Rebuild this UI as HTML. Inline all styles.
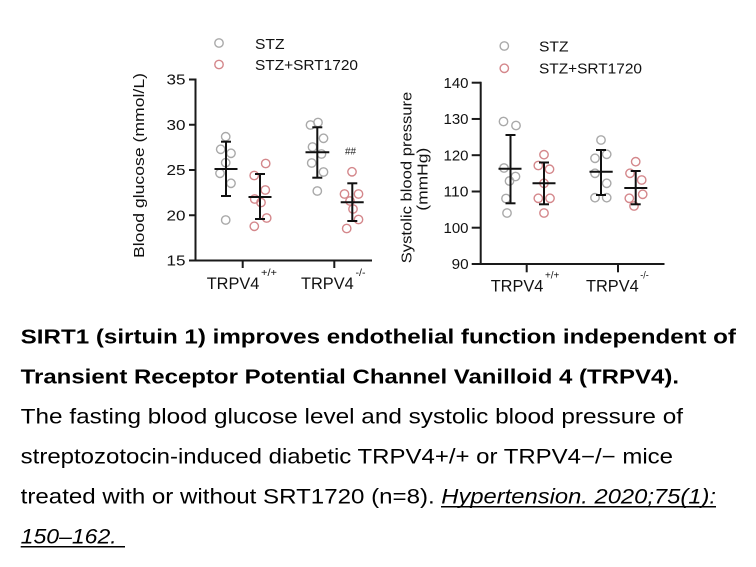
<!DOCTYPE html>
<html>
<head>
<meta charset="utf-8">
<style>
  html, body { margin:0; padding:0; background:#fff; }
  body { width:756px; height:567px; overflow:hidden; }
  svg { display:block; }
  text { font-family: "Liberation Sans", Arial, sans-serif; }
</style>
</head>
<body>
<svg width="756" height="567" viewBox="0 0 756 567" xmlns="http://www.w3.org/2000/svg">
  <rect width="756" height="567" fill="#fff"/>

  <!-- ================= LEFT CHART ================= -->
  <!-- legend -->
  <circle cx="219" cy="43" r="4.2" fill="none" stroke="#a9a9a9" stroke-width="1.4"/>
  <circle cx="219" cy="64.5" r="4.2" fill="none" stroke="#d4878b" stroke-width="1.4"/>
  <text x="255" y="48.8" font-size="15" fill="#111" textLength="29.5" lengthAdjust="spacingAndGlyphs">STZ</text>
  <text x="255" y="69.8" font-size="15" fill="#111" textLength="103" lengthAdjust="spacingAndGlyphs">STZ+SRT1720</text>

  <!-- axes -->
  <g stroke="#1a1a1a" stroke-width="2" fill="none">
    <line x1="195.5" y1="78.5" x2="195.5" y2="261.5"/>
    <line x1="194.5" y1="260.5" x2="372" y2="260.5"/>
    <line x1="189" y1="79.5" x2="195.5" y2="79.5"/>
    <line x1="189" y1="124.75" x2="195.5" y2="124.75"/>
    <line x1="189" y1="170" x2="195.5" y2="170"/>
    <line x1="189" y1="215.25" x2="195.5" y2="215.25"/>
    <line x1="189" y1="260.5" x2="195.5" y2="260.5"/>
    <line x1="242.7" y1="260.5" x2="242.7" y2="268"/>
    <line x1="334.3" y1="260.5" x2="334.3" y2="268"/>
  </g>
  <g font-size="14.5" fill="#111">
    <text x="166.5" y="84.7" textLength="19" lengthAdjust="spacingAndGlyphs">35</text>
    <text x="166.5" y="129.9" textLength="19" lengthAdjust="spacingAndGlyphs">30</text>
    <text x="166.5" y="175.2" textLength="19" lengthAdjust="spacingAndGlyphs">25</text>
    <text x="166.5" y="220.4" textLength="19" lengthAdjust="spacingAndGlyphs">20</text>
    <text x="166.5" y="265.7" textLength="19" lengthAdjust="spacingAndGlyphs">15</text>
  </g>
  <text transform="translate(144,165.5) rotate(-90)" x="-92.5" y="0" font-size="15" fill="#111" textLength="185" lengthAdjust="spacingAndGlyphs">Blood glucose (mmol/L)</text>

  <!-- x labels -->
  <text x="206.7" y="289" font-size="16.5" fill="#111" textLength="52.7" lengthAdjust="spacingAndGlyphs">TRPV4</text>
  <text x="261" y="276" font-size="10" fill="#111" textLength="16" lengthAdjust="spacingAndGlyphs">+/+</text>
  <text x="301" y="289" font-size="16.5" fill="#111" textLength="52.7" lengthAdjust="spacingAndGlyphs">TRPV4</text>
  <text x="355.5" y="276" font-size="10" fill="#111" textLength="10" lengthAdjust="spacingAndGlyphs">-/-</text>

  <!-- data points -->
  <g fill="none" stroke="#a9a9a9" stroke-width="1.4">
    <circle cx="225.7" cy="136.7" r="4.2"/>
    <circle cx="220.7" cy="149.3" r="4.2"/>
    <circle cx="231" cy="153.3" r="4.2"/>
    <circle cx="225.7" cy="162.7" r="4.2"/>
    <circle cx="220" cy="173.3" r="4.2"/>
    <circle cx="231" cy="183.3" r="4.2"/>
    <circle cx="225.7" cy="220" r="4.2"/>

    <circle cx="310.5" cy="125" r="4.2"/>
    <circle cx="318" cy="122.5" r="4.2"/>
    <circle cx="323.5" cy="138.3" r="4.2"/>
    <circle cx="312.5" cy="147" r="4.2"/>
    <circle cx="321.5" cy="154" r="4.2"/>
    <circle cx="311.7" cy="163" r="4.2"/>
    <circle cx="323.5" cy="172" r="4.2"/>
    <circle cx="317.3" cy="191" r="4.2"/>
  </g>
  <g fill="none" stroke="#d4878b" stroke-width="1.4">
    <circle cx="265.7" cy="163.5" r="4.2"/>
    <circle cx="254.2" cy="175.5" r="4.2"/>
    <circle cx="265.3" cy="190" r="4.2"/>
    <circle cx="254.7" cy="199" r="4.2"/>
    <circle cx="261" cy="202.5" r="4.2"/>
    <circle cx="266.7" cy="218" r="4.2"/>
    <circle cx="254.3" cy="226.3" r="4.2"/>

    <circle cx="352" cy="171.8" r="4.2"/>
    <circle cx="344.5" cy="194" r="4.2"/>
    <circle cx="358.5" cy="194" r="4.2"/>
    <circle cx="350" cy="201" r="4.2"/>
    <circle cx="353" cy="209" r="4.2"/>
    <circle cx="358.5" cy="219.5" r="4.2"/>
    <circle cx="346.7" cy="228.5" r="4.2"/>
  </g>

  <!-- mean ± SD -->
  <g stroke="#111" stroke-width="2" fill="none">
    <!-- g1 -->
    <line x1="226" y1="141.7" x2="226" y2="196"/>
    <line x1="221" y1="141.7" x2="231" y2="141.7"/>
    <line x1="221" y1="196" x2="231" y2="196"/>
    <line x1="214.5" y1="169" x2="237.5" y2="169"/>
    <!-- g2 -->
    <line x1="260" y1="174" x2="260" y2="219"/>
    <line x1="255" y1="174" x2="265" y2="174"/>
    <line x1="255" y1="219" x2="265" y2="219"/>
    <line x1="248.5" y1="197" x2="271.5" y2="197"/>
    <!-- g3 -->
    <line x1="317.3" y1="127.3" x2="317.3" y2="177.7"/>
    <line x1="312.3" y1="127.3" x2="322.3" y2="127.3"/>
    <line x1="312.3" y1="177.7" x2="322.3" y2="177.7"/>
    <line x1="305.5" y1="152.3" x2="329.3" y2="152.3"/>
    <!-- g4 -->
    <line x1="352.3" y1="183.3" x2="352.3" y2="221"/>
    <line x1="347.3" y1="183.3" x2="357.3" y2="183.3"/>
    <line x1="347.3" y1="221" x2="357.3" y2="221"/>
    <line x1="340.7" y1="202.3" x2="363.7" y2="202.3"/>
  </g>
  <text x="345" y="154.5" font-size="10.5" fill="#222" textLength="11" lengthAdjust="spacingAndGlyphs">##</text>

  <!-- ================= RIGHT CHART ================= -->
  <circle cx="504.3" cy="46" r="4.2" fill="none" stroke="#a9a9a9" stroke-width="1.4"/>
  <circle cx="504.3" cy="68.3" r="4.2" fill="none" stroke="#d4878b" stroke-width="1.4"/>
  <text x="539" y="51.7" font-size="14.5" fill="#111" textLength="29.5" lengthAdjust="spacingAndGlyphs">STZ</text>
  <text x="539" y="73.3" font-size="14.5" fill="#111" textLength="103" lengthAdjust="spacingAndGlyphs">STZ+SRT1720</text>

  <g stroke="#1a1a1a" stroke-width="2" fill="none">
    <line x1="480.7" y1="81.7" x2="480.7" y2="265"/>
    <line x1="479.7" y1="264" x2="664.5" y2="264"/>
    <line x1="471.7" y1="82.7" x2="480.7" y2="82.7"/>
    <line x1="471.7" y1="118.96" x2="480.7" y2="118.96"/>
    <line x1="471.7" y1="155.2" x2="480.7" y2="155.2"/>
    <line x1="471.7" y1="191.5" x2="480.7" y2="191.5"/>
    <line x1="471.7" y1="227.7" x2="480.7" y2="227.7"/>
    <line x1="471.7" y1="264" x2="480.7" y2="264"/>
    <line x1="526.7" y1="264" x2="526.7" y2="272.3"/>
    <line x1="618" y1="264" x2="618" y2="272.3"/>
  </g>
  <g font-size="14.5" fill="#111">
    <text x="443.5" y="87.9" textLength="25" lengthAdjust="spacingAndGlyphs">140</text>
    <text x="443.5" y="124.1" textLength="25" lengthAdjust="spacingAndGlyphs">130</text>
    <text x="443.5" y="160.4" textLength="25" lengthAdjust="spacingAndGlyphs">120</text>
    <text x="443.5" y="196.7" textLength="25" lengthAdjust="spacingAndGlyphs">110</text>
    <text x="443.5" y="232.9" textLength="25" lengthAdjust="spacingAndGlyphs">100</text>
    <text x="451.7" y="269.2" textLength="17" lengthAdjust="spacingAndGlyphs">90</text>
  </g>
  <text transform="translate(411.7,177.5) rotate(-90)" x="-85.8" y="0" font-size="14.5" fill="#111" textLength="171.6" lengthAdjust="spacingAndGlyphs">Systolic blood pressure</text>
  <text transform="translate(427.5,179.2) rotate(-90)" x="-31.5" y="0" font-size="14.5" fill="#111" textLength="63" lengthAdjust="spacingAndGlyphs">(mmHg)</text>

  <text x="490.7" y="291.7" font-size="16.5" fill="#111" textLength="52.7" lengthAdjust="spacingAndGlyphs">TRPV4</text>
  <text x="545" y="278.5" font-size="10" fill="#111" textLength="14.3" lengthAdjust="spacingAndGlyphs">+/+</text>
  <text x="586" y="291.7" font-size="16.5" fill="#111" textLength="52.7" lengthAdjust="spacingAndGlyphs">TRPV4</text>
  <text x="640.3" y="278.5" font-size="10" fill="#111" textLength="8.5" lengthAdjust="spacingAndGlyphs">-/-</text>

  <g fill="none" stroke="#a9a9a9" stroke-width="1.4">
    <circle cx="503.5" cy="121.5" r="4.2"/>
    <circle cx="516" cy="125.5" r="4.2"/>
    <circle cx="504" cy="168" r="4.2"/>
    <circle cx="515.5" cy="176.5" r="4.2"/>
    <circle cx="509.5" cy="181" r="4.2"/>
    <circle cx="506" cy="198.5" r="4.2"/>
    <circle cx="507" cy="213" r="4.2"/>

    <circle cx="601" cy="140" r="4.2"/>
    <circle cx="595" cy="158.3" r="4.2"/>
    <circle cx="606.7" cy="154.3" r="4.2"/>
    <circle cx="595" cy="173.3" r="4.2"/>
    <circle cx="606.7" cy="183.3" r="4.2"/>
    <circle cx="595" cy="197.7" r="4.2"/>
    <circle cx="606.7" cy="197.7" r="4.2"/>
  </g>
  <g fill="none" stroke="#d4878b" stroke-width="1.4">
    <circle cx="544" cy="154.7" r="4.2"/>
    <circle cx="538.3" cy="165.5" r="4.2"/>
    <circle cx="549.5" cy="169.2" r="4.2"/>
    <circle cx="544" cy="183.3" r="4.2"/>
    <circle cx="538.3" cy="198.3" r="4.2"/>
    <circle cx="550" cy="198.3" r="4.2"/>
    <circle cx="544" cy="213" r="4.2"/>

    <circle cx="635.7" cy="161.7" r="4.2"/>
    <circle cx="630" cy="173.3" r="4.2"/>
    <circle cx="641.7" cy="180" r="4.2"/>
    <circle cx="642.7" cy="194.3" r="4.2"/>
    <circle cx="629.3" cy="198.3" r="4.2"/>
    <circle cx="634" cy="206" r="4.2"/>
  </g>

  <g stroke="#111" stroke-width="2" fill="none">
    <line x1="510.5" y1="135" x2="510.5" y2="203.3"/>
    <line x1="505.5" y1="135" x2="515.5" y2="135"/>
    <line x1="505.5" y1="203.3" x2="515.5" y2="203.3"/>
    <line x1="498.5" y1="168.7" x2="521.5" y2="168.7"/>

    <line x1="544" y1="162.5" x2="544" y2="204.3"/>
    <line x1="539" y1="162.5" x2="549" y2="162.5"/>
    <line x1="539" y1="204.3" x2="549" y2="204.3"/>
    <line x1="532.5" y1="183.3" x2="555.5" y2="183.3"/>

    <line x1="601" y1="150" x2="601" y2="195"/>
    <line x1="596" y1="150" x2="606" y2="150"/>
    <line x1="596" y1="195" x2="606" y2="195"/>
    <line x1="589.5" y1="171.7" x2="612.7" y2="171.7"/>

    <line x1="635.7" y1="171" x2="635.7" y2="204.3"/>
    <line x1="630.7" y1="171" x2="640.7" y2="171"/>
    <line x1="630.7" y1="204.3" x2="640.7" y2="204.3"/>
    <line x1="624.3" y1="188" x2="647.3" y2="188"/>
  </g>

  <!-- ================= CAPTION ================= -->
  <g fill="#000">
    <text x="20.7" y="343.3" font-size="20" font-weight="bold" textLength="715.3" lengthAdjust="spacingAndGlyphs">SIRT1 (sirtuin 1) improves endothelial function independent of</text>
    <text x="20.7" y="383.3" font-size="20" font-weight="bold" textLength="658.3" lengthAdjust="spacingAndGlyphs">Transient Receptor Potential Channel Vanilloid 4 (TRPV4).</text>
    <text x="20.7" y="423.5" font-size="21" textLength="662.3" lengthAdjust="spacingAndGlyphs">The fasting blood glucose level and systolic blood pressure of</text>
    <text x="20.7" y="463.3" font-size="21" textLength="652.3" lengthAdjust="spacingAndGlyphs">streptozotocin-induced diabetic TRPV4+/+ or TRPV4−/− mice</text>
    <text x="20.7" y="503.3" font-size="21" textLength="414" lengthAdjust="spacingAndGlyphs">treated with or without SRT1720 (n=8).</text>
    <text x="441.3" y="503.3" font-size="21" font-style="italic" textLength="274.7" lengthAdjust="spacingAndGlyphs">Hypertension. 2020;75(1):</text>
    <text x="20.7" y="543.3" font-size="21" font-style="italic" textLength="96" lengthAdjust="spacingAndGlyphs">150–162.</text>
  </g>
  <line x1="441" y1="506.8" x2="716" y2="506.8" stroke="#000" stroke-width="1.5"/>
  <line x1="20.7" y1="546.8" x2="125" y2="546.8" stroke="#000" stroke-width="1.5"/>
</svg>
</body>
</html>
